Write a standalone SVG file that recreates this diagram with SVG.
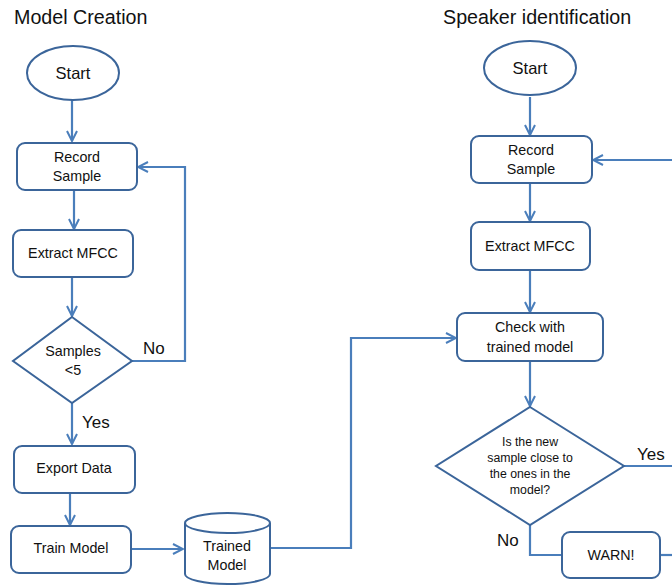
<svg xmlns="http://www.w3.org/2000/svg" width="672" height="585" viewBox="0 0 672 585">
<defs>
<marker id="arr" viewBox="0 0 12 12" refX="11" refY="6" markerWidth="12" markerHeight="12" markerUnits="userSpaceOnUse" orient="auto">
<path d="M1,1 L11,6 L1,11" fill="none" stroke="#4A7EBB" stroke-width="2"/>
</marker>
<style>
.sh{fill:#fff;stroke:#3B659A;stroke-width:2}
.cn{fill:none;stroke:#4A7EBB;stroke-width:2.2}
.t{font-family:"Liberation Sans",Arial,sans-serif;font-size:14.3px;fill:#111;text-anchor:middle}
.s{font-family:"Liberation Sans",Arial,sans-serif;font-size:12.3px;fill:#111;text-anchor:middle}
.title{font-family:"Liberation Sans",Arial,sans-serif;font-size:19.7px;fill:#111}
.lb{font-family:"Liberation Sans",Arial,sans-serif;font-size:17px;fill:#111}
</style>
</defs>
<rect width="672" height="585" fill="#fff"/>
<text class="title" x="14" y="24">Model Creation</text>
<text class="title" x="443" y="24">Speaker identification</text>

<g id="connectors">
<path class="cn" d="M72,100 V141" marker-end="url(#arr)"/>
<path class="cn" d="M74,190 V229" marker-end="url(#arr)"/>
<path class="cn" d="M72,277 V316" marker-end="url(#arr)"/>
<path class="cn" d="M132,361 H185 V167 H138" marker-end="url(#arr)"/>
<path class="cn" d="M72,403 V444" marker-end="url(#arr)"/>
<path class="cn" d="M70,493 V525" marker-end="url(#arr)"/>
<path class="cn" d="M131,549 H183" marker-end="url(#arr)"/>
<path class="cn" d="M270,548 H351 V338 H456" marker-end="url(#arr)"/>
<path class="cn" d="M530,97 V135" marker-end="url(#arr)"/>
<path class="cn" d="M672,160 H593" marker-end="url(#arr)"/>
<path class="cn" d="M530,183 V221" marker-end="url(#arr)"/>
<path class="cn" d="M530,270 V312" marker-end="url(#arr)"/>
<path class="cn" d="M530,361 V406" marker-end="url(#arr)"/>
<path class="cn" d="M624,466 H672"/>
<path class="cn" d="M530,525 V555 H562"/>
<path class="cn" d="M660,555 H672"/>
<text class="lb" x="143" y="354">No</text>
<text class="lb" x="82" y="428">Yes</text>
<text class="lb" x="637" y="460">Yes</text>
<text class="lb" x="497" y="546">No</text>
</g>

<g id="start1">
<ellipse class="sh" cx="73" cy="73" rx="46" ry="27"/>
<text class="t" x="73" y="79" style="font-size:16.5px">Start</text>
</g>
<g id="record1">
<rect class="sh" x="17" y="143" width="120" height="47" rx="8"/>
<text class="t" x="77" y="162">Record</text>
<text class="t" x="77" y="181">Sample</text>
</g>
<g id="mfcc1">
<rect class="sh" x="13" y="230" width="120" height="47" rx="8"/>
<text class="t" x="73" y="258">Extract MFCC</text>
</g>
<g id="samples">
<path class="sh" d="M72,317 L132,361 L72,403 L13,361 Z"/>
<text class="t" x="73" y="356">Samples</text>
<text class="t" x="73" y="375">&lt;5</text>
</g>
<g id="export">
<rect class="sh" x="14" y="446" width="121" height="47" rx="8"/>
<text class="t" x="74" y="473">Export Data</text>
</g>
<g id="train">
<rect class="sh" x="11" y="526" width="120" height="47" rx="8"/>
<text class="t" x="71" y="553">Train Model</text>
</g>
<g id="trained">
<path class="sh" d="M185,523 V574 A42.5,10 0 0 0 270,574 V523"/>
<ellipse class="sh" cx="227.5" cy="523" rx="42.5" ry="10"/>
<text class="t" x="227" y="551">Trained</text>
<text class="t" x="227" y="570">Model</text>
</g>

<g id="start2">
<ellipse class="sh" cx="530" cy="68" rx="46" ry="27"/>
<text class="t" x="530" y="74" style="font-size:16.5px">Start</text>
</g>
<g id="record2">
<rect class="sh" x="471" y="136" width="121" height="47" rx="8"/>
<text class="t" x="531" y="155">Record</text>
<text class="t" x="531" y="174">Sample</text>
</g>
<g id="mfcc2">
<rect class="sh" x="471" y="222" width="119" height="48" rx="8"/>
<text class="t" x="530" y="251">Extract MFCC</text>
</g>
<g id="check">
<rect class="sh" x="457" y="313" width="146" height="48" rx="8"/>
<text class="t" x="530" y="332">Check with</text>
<text class="t" x="530" y="352">trained model</text>
</g>
<g id="close">
<path class="sh" d="M530,407 L624,466 L530,525 L436,466 Z"/>
<text class="s" x="530" y="446">Is the new</text>
<text class="s" x="530" y="462">sample close to</text>
<text class="s" x="530" y="478">the ones in the</text>
<text class="s" x="530" y="494">model?</text>
</g>
<g id="warn">
<rect class="sh" x="562" y="532" width="98" height="46" rx="8"/>
<text class="t" x="611" y="560">WARN!</text>
</g>
</svg>
